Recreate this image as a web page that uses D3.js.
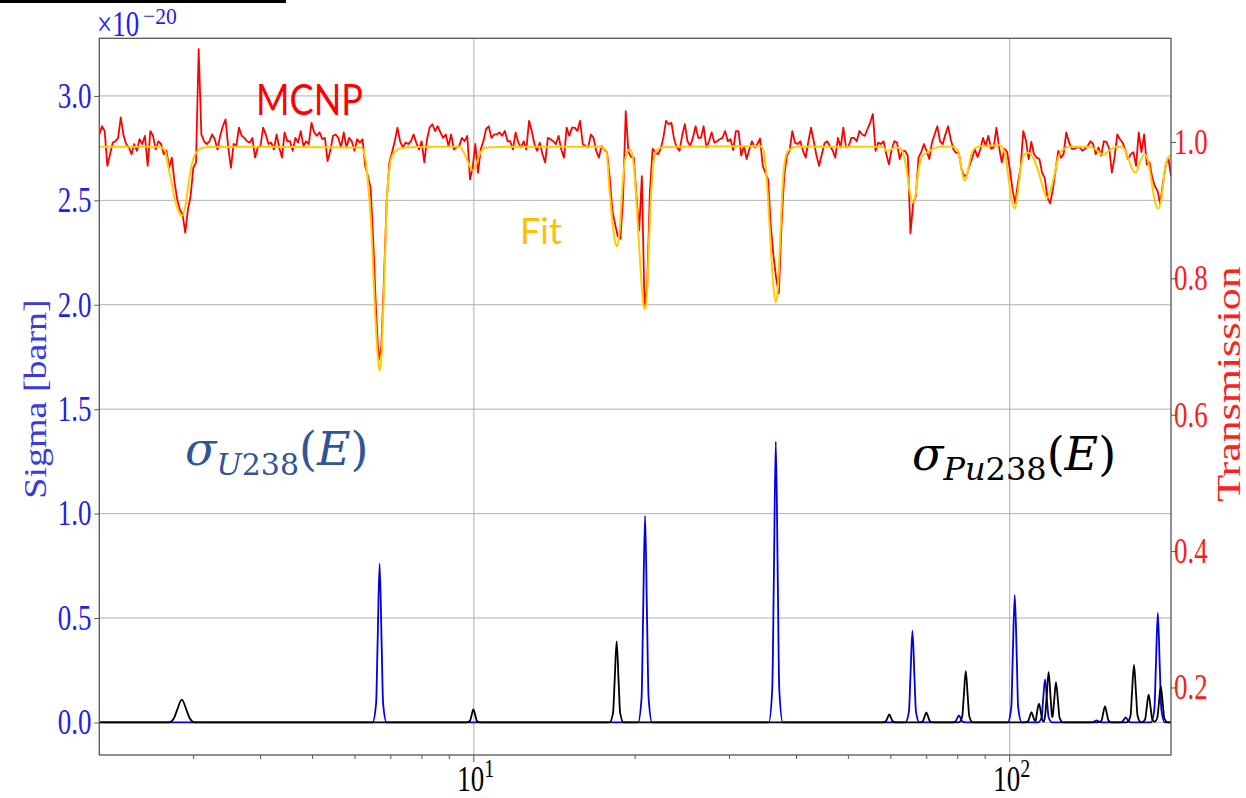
<!DOCTYPE html>
<html><head><meta charset="utf-8">
<script src="https://cdn.jsdelivr.net/npm/d3@7"></script>
<style>
html,body{margin:0;padding:0;background:#fff;}
svg{display:block;}
</style></head>
<body>
<svg id="chart" width="1246" height="798"></svg>
<script>
// ---- axes ----
const energyDomain = [2, 200];            // eV, log axis
const sigmaDomain = [-0.156, 3.276];      // barn, in units of 1e-20
const transDomain = [0.101, 1.152];
const sigmaTicks = [0, 0.5, 1.0, 1.5, 2.0, 2.5, 3.0];
const transTicks = [0.2, 0.4, 0.6, 0.8, 1.0];
const decadeTicks = [10, 100];
const decadeExponents = ["1", "2"];
const minorTicks = [3, 4, 5, 6, 7, 8, 9, 20, 30, 40, 50, 60, 70, 80, 90];

// ---- MCNP transmission, log-spaced tally bins from 2 to 200 eV ----
const mcnpRange = [2, 200];
const mcnpTransmission = [
  1.011, 1.023, 1.016, 0.965, 0.982, 0.999, 1.001, 1.006, 1.036, 1.010,
  0.997, 0.992, 0.982, 0.997, 0.987, 1.004, 0.997, 1.009, 0.965, 1.016,
  1.009, 0.989, 1.001, 0.997, 0.982, 0.987, 0.962, 0.977, 0.941, 0.916,
  0.901, 0.894, 0.867, 0.901, 0.921, 0.962, 0.970, 1.136, 1.011, 1.001,
  0.997, 1.001, 1.011, 1.004, 0.989, 1.009, 1.023, 1.033, 0.992, 0.962,
  0.997, 0.994, 1.021, 1.009, 1.006, 1.001, 0.999, 1.006, 0.977, 0.992,
  0.994, 1.021, 1.011, 0.997, 0.999, 0.989, 1.011, 0.992, 0.977, 1.014,
  1.001, 1.001, 0.987, 1.006, 0.999, 1.016, 0.994, 1.001, 0.997, 1.028,
  1.014, 1.009, 1.014, 1.004, 1.006, 0.972, 0.987, 1.009, 1.011, 1.006,
  0.992, 1.014, 0.992, 1.006, 1.001, 0.987, 1.004, 0.999, 1.004, 0.965,
  0.950, 0.933, 0.855, 0.755, 0.680, 0.700, 0.800, 0.914, 0.970, 0.985,
  1.001, 1.021, 1.001, 0.992, 0.999, 0.997, 1.001, 1.011, 0.999, 0.989,
  1.001, 0.970, 1.004, 1.021, 1.026, 1.016, 1.023, 1.014, 1.006, 1.011,
  0.994, 1.011, 0.989, 0.992, 0.994, 1.006, 1.001, 1.009, 0.945, 0.962,
  0.997, 0.955, 0.989, 1.001, 1.019, 1.023, 1.006, 1.011, 1.011, 1.014,
  1.009, 1.016, 1.001, 1.001, 0.989, 1.014, 0.999, 0.992, 1.001, 0.989,
  1.031, 1.016, 0.997, 0.987, 0.999, 0.982, 0.970, 1.006, 1.004, 1.001,
  0.997, 1.009, 0.989, 0.977, 1.021, 1.009, 1.021, 1.021, 1.016, 1.031,
  0.997, 0.994, 0.992, 1.011, 1.006, 0.987, 0.977, 0.994, 0.989, 0.985,
  0.950, 0.900, 0.880, 0.862, 0.858, 0.918, 1.045, 0.985, 0.978, 0.977,
  0.920, 0.870, 0.950, 0.757, 0.790, 0.928, 0.990, 0.985, 0.982, 0.990,
  1.006, 1.031, 1.026, 1.028, 1.004, 0.992, 0.987, 1.009, 1.026, 1.001,
  0.994, 1.006, 1.023, 1.006, 1.006, 1.023, 0.992, 1.001, 1.014, 0.999,
  1.001, 1.004, 1.006, 1.016, 1.001, 1.004, 0.988, 1.016, 1.016, 0.980,
  0.994, 0.975, 0.989, 1.001, 0.992, 0.997, 1.005, 0.965, 0.955, 0.945,
  0.877, 0.833, 0.800, 0.778, 0.880, 0.950, 0.980, 0.987, 1.016, 0.999,
  0.997, 1.001, 0.987, 0.977, 1.001, 1.021, 1.001, 0.980, 0.965, 0.982,
  0.998, 1.001, 0.994, 0.988, 0.977, 1.006, 0.992, 1.021, 0.992, 0.994,
  1.006, 1.006, 1.001, 1.016, 1.011, 1.009, 1.019, 1.028, 1.041, 0.987,
  0.999, 0.997, 1.001, 0.982, 0.967, 0.989, 1.001, 0.999, 0.975, 0.987,
  0.987, 0.980, 0.866, 0.910, 0.920, 0.977, 0.985, 0.997, 0.987, 0.975,
  0.999, 1.011, 1.023, 1.001, 0.997, 1.011, 1.023, 1.004, 0.989, 0.984,
  0.984, 0.960, 0.950, 0.952, 0.965, 0.977, 0.989, 0.978, 0.989, 1.006,
  0.994, 1.009, 0.990, 0.992, 1.021, 0.992, 0.970, 0.990, 0.985, 0.960,
  0.930, 0.910, 0.940, 0.962, 1.016, 1.002, 0.975, 1.000, 0.982, 0.977,
  0.975, 0.955, 0.947, 0.918, 0.910, 0.930, 0.958, 0.987, 0.977, 0.982,
  1.014, 1.000, 0.990, 0.990, 0.992, 0.992, 0.987, 0.990, 0.994, 1.001,
  0.997, 0.982, 0.992, 0.980, 1.001, 1.000, 0.990, 0.955, 0.978, 1.011,
  1.004, 0.999, 0.988, 0.975, 0.982, 0.985, 0.965, 1.014, 0.985, 1.011,
  0.967, 0.970, 0.948, 0.935, 0.928, 0.909, 0.940, 0.965, 0.977, 0.950
];

// ---- fitted transmission ----
const fitEnergy = [
  2.0, 2.590, 2.654, 2.692, 2.731, 2.771, 2.811, 2.851, 2.893, 2.934, 2.976, 3.019, 3.063, 3.143, 3.281, 3.652,
  6.163, 6.252, 6.341, 6.435, 6.526, 6.620, 6.668, 6.716, 6.763, 6.813, 6.881, 6.960, 7.060, 7.213, 7.479, 8.267,
  9.404, 9.678, 9.817, 9.957, 10.10, 10.25, 10.55, 11.66,
  17.17, 17.67, 17.92, 18.18, 18.39, 18.52, 18.71, 18.97, 19.25, 19.53, 19.67, 19.95, 20.24, 20.54, 20.74, 20.89,
  21.04, 21.28, 21.58, 21.90, 22.38, 24.21,
  34.15, 34.74, 35.14, 35.65, 36.15, 36.58, 36.94, 37.33, 37.74, 38.30, 38.84, 39.98,
  54.80, 58.01, 58.86, 59.70, 60.99, 62.31, 63.21, 64.14, 65.05, 65.99, 66.75, 67.42, 68.40, 69.39, 70.91, 72.44,
  75.07, 78.38, 80.08, 81.27, 82.41, 83.60, 84.82, 86.66, 89.17, 95.79, 97.88, 99.27, 100.7, 102.2, 103.6, 105.1,
  106.7, 108.2, 110.5, 113.0, 115.4, 117.4, 119.1, 121.3, 123.1, 125.8, 129.4, 141.1, 145.2, 149.4, 153.7, 158.2,
  162.7, 166.3, 169.9, 171.9, 174.9, 178.6, 181.2, 183.9, 186.5, 189.2, 192.0, 194.7, 197.5, 199.8
];
const fitTransmission = [
  0.993, 0.993, 0.987, 0.962, 0.939, 0.914, 0.899, 0.891, 0.904, 0.938, 0.967, 0.982, 0.988, 0.992, 0.993, 0.993,
  0.992, 0.982, 0.943, 0.875, 0.767, 0.684, 0.665, 0.679, 0.738, 0.806, 0.914, 0.962, 0.982, 0.989, 0.992, 0.993,
  0.993, 0.977, 0.965, 0.958, 0.967, 0.982, 0.992, 0.993,
  0.993, 0.987, 0.928, 0.875, 0.850, 0.847, 0.870, 0.943, 0.982, 0.989, 0.987, 0.953, 0.875, 0.797, 0.760, 0.755,
  0.777, 0.875, 0.962, 0.987, 0.992, 0.993,
  0.994, 0.987, 0.953, 0.875, 0.797, 0.765, 0.787, 0.865, 0.943, 0.982, 0.989, 0.993,
  0.993, 0.993, 0.987, 0.988, 0.992, 0.991, 0.984, 0.962, 0.928, 0.911, 0.923, 0.953, 0.977, 0.982, 0.987, 0.991,
  0.993, 0.993, 0.987, 0.960, 0.943, 0.958, 0.982, 0.992, 0.994, 0.995, 0.984, 0.953, 0.918, 0.902, 0.928, 0.967,
  0.982, 0.984, 0.977, 0.958, 0.933, 0.918, 0.928, 0.953, 0.977, 0.989, 0.993, 0.993, 0.988, 0.981, 0.988, 0.993,
  0.992, 0.977, 0.958, 0.955, 0.970, 0.982, 0.972, 0.943, 0.914, 0.902, 0.918, 0.958, 0.977, 0.980
];

// ---- U-238 resonance cross section (1e-20 barn) ----
const u238Energy = [
  2.0,
  6.472, 6.570, 6.613, 6.670, 6.728, 6.771, 6.874,
  20.25, 20.56, 20.69, 20.87, 21.05, 21.19, 21.51,
  35.52, 36.05, 36.29, 36.60, 36.92, 37.15, 37.72,
  63.89, 64.86, 65.28, 65.84, 66.41, 66.84, 67.85,
  78.02, 79.20, 79.71, 80.40, 81.09, 81.62, 82.85,
  99.17, 100.7, 101.3, 102.2, 103.1, 103.7, 105.3,
  112.95, 114.7, 115.4, 116.4, 117.4, 118.2, 120.0,
  140.9, 143.0, 144.0, 145.2, 146.5, 147.4, 149.6,
  159.7, 162.1, 163.2, 164.6, 166.0, 167.1, 169.6,
  183.4, 186.2, 187.4, 189.0, 190.6, 191.9, 194.8,
  200.0
];
const u238Sigma = [
  0,
  0, 0.091, 0.38, 0.76, 0.38, 0.091, 0,
  0, 0.119, 0.495, 0.99, 0.495, 0.119, 0,
  0, 0.161, 0.672, 1.345, 0.672, 0.161, 0,
  0, 0.053, 0.22, 0.44, 0.22, 0.053, 0,
  0, 0.004, 0.017, 0.034, 0.017, 0.004, 0,
  0, 0.073, 0.306, 0.611, 0.306, 0.073, 0,
  0, 0.025, 0.103, 0.206, 0.103, 0.025, 0,
  0, 0.001, 0.005, 0.010, 0.005, 0.001, 0,
  0, 0.003, 0.012, 0.024, 0.012, 0.003, 0,
  0, 0.063, 0.263, 0.525, 0.263, 0.063, 0,
  0
];

// ---- Pu-238 resonance cross section (1e-20 barn) ----
const pu238Energy = [
  2.0,
  2.696, 2.755, 2.790, 2.851, 2.913, 2.951, 3.015,
  9.684, 9.831, 9.895, 9.98, 10.07, 10.13, 10.28,
  17.92, 18.19, 18.31, 18.47, 18.63, 18.75, 19.03,
  57.83, 58.71, 59.09, 59.6, 60.11, 60.50, 61.42,
  67.83, 68.86, 69.30, 69.9, 70.50, 70.96, 72.03,
  80.35, 81.56, 82.09, 82.8, 83.51, 84.06, 85.33,
  106.5, 108.2, 108.9, 109.8, 110.7, 111.5, 111.8, 112.4, 113.4, 114.4, 115.1, 115.7,
  116.4, 117.2, 118.2, 119.2, 120.0, 120.2, 121.0, 122.0, 123.1, 123.9, 125.7,
  146.1, 148.4, 149.3, 150.6, 151.9, 152.9, 155.2,
  165.5, 168.1, 169.1, 170.6, 172.1, 173.2, 175.8,
  176.3, 179.0, 180.1, 181.7, 183.3, 184.5, 186.3, 188.5, 189.8, 191.4, 193.1, 194.3, 197.2,
  200.0
];
const pu238Sigma = [
  0,
  0, 0.019, 0.055, 0.109, 0.055, 0.019, 0,
  0, 0.007, 0.031, 0.062, 0.031, 0.007, 0,
  0, 0.047, 0.194, 0.388, 0.194, 0.047, 0,
  0, 0.005, 0.019, 0.038, 0.019, 0.005, 0,
  0, 0.006, 0.024, 0.048, 0.024, 0.006, 0,
  0, 0.030, 0.123, 0.246, 0.123, 0.030, 0,
  0, 0.006, 0.025, 0.049, 0.025, 0.006, 0.008, 0.045, 0.090, 0.045, 0.011, 0.004,
  0.029, 0.120, 0.241, 0.120, 0.029, 0.025, 0.097, 0.193, 0.097, 0.023, 0,
  0, 0.009, 0.039, 0.077, 0.039, 0.009, 0,
  0, 0.033, 0.138, 0.276, 0.138, 0.033, 0,
  0, 0.016, 0.067, 0.133, 0.067, 0.016, 0.003, 0.021, 0.087, 0.174, 0.087, 0.021, 0,
  0
];

// ---- drawing ----
const W = 1246, H = 798;
const plot = { left: 99.3, right: 1171, top: 38.3, bottom: 755 };
const serif = "'Liberation Serif', 'Times New Roman', serif";
const sans = "Lato, 'Open Sans', sans-serif";
const mathFont = "'DejaVu Serif', serif";
const squeeze = 0.77;       // axis lettering is drawn narrow and tall
const tickFont = 35;

const svg = d3.select("#chart");
svg.append("rect").attr("width", W).attr("height", H).attr("fill", "#fff");

const x = d3.scaleLog().domain(energyDomain).range([plot.left, plot.right]);
const yS = d3.scaleLinear().domain(sigmaDomain).range([plot.bottom, plot.top]);
const yT = d3.scaleLinear().domain(transDomain).range([plot.bottom, plot.top]);

svg.append("defs").append("clipPath").attr("id", "plotClip")
  .append("rect").attr("x", plot.left).attr("y", plot.top)
  .attr("width", plot.right - plot.left).attr("height", plot.bottom - plot.top);

// grid
const grid = svg.append("g").attr("stroke", "#b0b0b0").attr("stroke-width", 1);
grid.selectAll("line.h").data(sigmaTicks).join("line").attr("class", "h")
  .attr("x1", plot.left).attr("x2", plot.right)
  .attr("y1", d => yS(d)).attr("y2", d => yS(d));
grid.selectAll("line.v").data(decadeTicks).join("line").attr("class", "v")
  .attr("x1", d => x(d)).attr("x2", d => x(d))
  .attr("y1", plot.top).attr("y2", plot.bottom);

// series
const zip = (a, b) => a.map((v, i) => [v, b[i]]);
const nBins = mcnpTransmission.length;
const mcnpPoints = mcnpTransmission.map((t, i) =>
  [mcnpRange[0] * Math.pow(mcnpRange[1] / mcnpRange[0], i / (nBins - 1)), t]);

const lines = svg.append("g").attr("clip-path", "url(#plotClip)").attr("fill", "none");
const sigmaLine = d3.line().x(d => x(d[0])).y(d => yS(d[1])).curve(d3.curveMonotoneX);
const transLine = d3.line().x(d => x(d[0])).y(d => yT(d[1]));

lines.append("path").attr("d", sigmaLine(zip(u238Energy, u238Sigma)))
  .attr("stroke", "#0000e0").attr("stroke-width", 1.8).attr("stroke-linejoin", "round");
lines.append("path").attr("d", sigmaLine(zip(pu238Energy, pu238Sigma)))
  .attr("stroke", "#000").attr("stroke-width", 1.8).attr("stroke-linejoin", "round");
lines.append("path").attr("d", transLine(mcnpPoints))
  .attr("stroke", "#ff0000").attr("stroke-width", 1.8).attr("stroke-linejoin", "round");
lines.append("path").attr("d", transLine.curve(d3.curveMonotoneX)(zip(fitEnergy, fitTransmission)))
  .attr("stroke", "#ffcc00").attr("stroke-width", 2).attr("stroke-linejoin", "round");

// frame
svg.append("rect").attr("x", plot.left).attr("y", plot.top)
  .attr("width", plot.right - plot.left).attr("height", plot.bottom - plot.top)
  .attr("fill", "none").attr("stroke", "#555").attr("stroke-width", 1.3);

// left axis: tick marks from d3, labels set narrow
const leftAxis = svg.append("g").attr("transform", `translate(${plot.left},0)`)
  .call(d3.axisLeft(yS).tickValues(sigmaTicks).tickFormat("").tickSize(5));
leftAxis.select(".domain").remove();
leftAxis.selectAll("line").attr("stroke", "#555");
svg.append("g").selectAll("text").data(sigmaTicks).join("text")
  .attr("transform", d => `translate(91.5,${yS(d)}) scale(${squeeze},1)`)
  .attr("dy", "0.34em").attr("text-anchor", "end")
  .attr("font-family", serif).attr("font-size", tickFont).attr("fill", "#1f1fe8")
  .text(d3.format(".1f"));

// right axis
const rightAxis = svg.append("g").attr("transform", `translate(${plot.right},0)`)
  .call(d3.axisRight(yT).tickValues(transTicks).tickFormat("").tickSize(5));
rightAxis.select(".domain").remove();
rightAxis.selectAll("line").attr("stroke", "#555");
svg.append("g").selectAll("text").data(transTicks).join("text")
  .attr("transform", d => `translate(1174,${yT(d)}) scale(${squeeze},1)`)
  .attr("dy", "0.34em").attr("text-anchor", "start")
  .attr("font-family", serif).attr("font-size", tickFont).attr("fill", "#ff1a1a")
  .text(d3.format(".1f"));

// bottom axis
const bottom = svg.append("g").attr("stroke", "#555").attr("stroke-width", 1);
bottom.selectAll("line.minor").data(minorTicks).join("line").attr("class", "minor")
  .attr("x1", d => x(d)).attr("x2", d => x(d)).attr("y1", plot.bottom).attr("y2", plot.bottom + 4);
bottom.selectAll("line.major").data(decadeTicks).join("line").attr("class", "major")
  .attr("x1", d => x(d)).attr("x2", d => x(d)).attr("y1", plot.bottom).attr("y2", plot.bottom + 7);
const decLabels = svg.append("g").attr("font-family", serif).attr("fill", "#000");
decadeTicks.forEach((d, i) => {
  const t = decLabels.append("text")
    .attr("transform", `translate(${x(d) + 2},791) scale(${squeeze},1)`)
    .attr("text-anchor", "middle").attr("font-size", tickFont);
  t.append("tspan").text("10");
  t.append("tspan").attr("font-size", 26).attr("dy", -14).text(decadeExponents[i]);
});

// offset label for the sigma axis
svg.append("text").attr("transform", `translate(97,36) scale(${squeeze},1)`)
  .attr("font-family", serif).attr("fill", "#1f1fe8").attr("font-size", tickFont)
  .text("\u00d710");
svg.append("text").attr("transform", "translate(143,24) scale(0.9,1)")
  .attr("font-family", serif).attr("fill", "#1f1fe8").attr("font-size", 24)
  .text("\u221220");

// axis titles
svg.append("text").attr("transform", `translate(46,399) scale(${squeeze + 0.05},1) rotate(-90)`)
  .attr("text-anchor", "middle").attr("font-family", serif).attr("font-size", 38)
  .attr("fill", "#3a3ae0").text("Sigma [barn]");
svg.append("text").attr("transform", `translate(1239.5,384) scale(${squeeze},1) rotate(-90)`)
  .attr("text-anchor", "middle").attr("font-family", serif).attr("font-size", 44)
  .attr("fill", "#ff2020").text("Transmission");

// the black edge of the frame above the chart
svg.append("path").attr("d", "M0,1.5H284.5V-4").attr("fill", "none")
  .attr("stroke", "#000").attr("stroke-width", 3);

// annotations
svg.append("text").attr("transform", "translate(256,115) scale(0.86,1)").attr("font-family", sans)
  .attr("font-size", 42).attr("fill", "#ff0000").text("MCNP");
svg.append("text").attr("x", 520).attr("y", 244).attr("font-family", sans)
  .attr("font-size", 36).attr("fill", "#ffc000").text("Fit");

function sigmaLabel(xp, yp, sub, subSize, color) {
  const t = svg.append("text").attr("x", xp).attr("y", yp)
    .attr("font-family", mathFont).attr("fill", color).attr("font-size", 46);
  t.append("tspan").attr("font-style", "italic").text("\u03c3");
  t.append("tspan").attr("font-size", subSize).attr("dy", 10).attr("font-style", "italic").text(sub[0]);
  t.append("tspan").attr("font-size", subSize).text(sub[1]);
  t.append("tspan").attr("dy", -10).text("(");
  t.append("tspan").attr("font-style", "italic").text("E");
  t.append("tspan").text(")");
}
sigmaLabel(185, 465, ["U", "238"], 30, "#2f5597");
sigmaLabel(912, 470, ["Pu", "238"], 32, "#000");
</script>
</body></html>
